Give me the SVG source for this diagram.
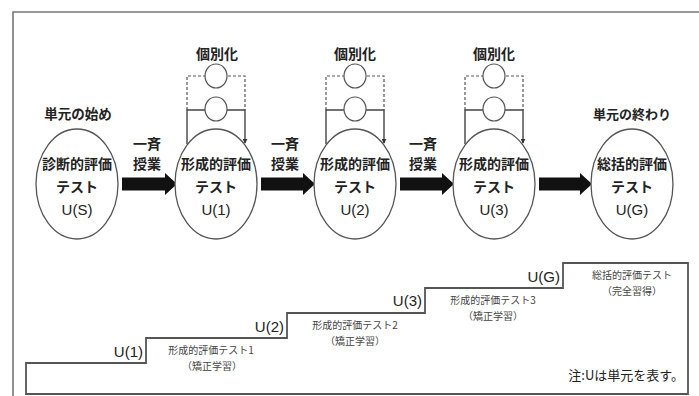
<svg xmlns="http://www.w3.org/2000/svg" width="699" height="396" viewBox="0 0 699 396">
<defs>
<style>
.jp{font-family:"Noto Sans CJK JP","Noto Sans",sans-serif;fill:#222;}
.b{font-weight:700;font-size:14px;}
.u{font-family:"Liberation Sans","Noto Sans",sans-serif;fill:#222;font-size:15px;}
.s{font-size:10px;fill:#444;}
.node{fill:#fff;stroke:#555;stroke-width:1.3;}
.sm{fill:#fff;stroke:#555;stroke-width:1.2;}
.solid{fill:none;stroke:#444;stroke-width:1.4;}
.dash{fill:none;stroke:#555;stroke-width:1.2;stroke-dasharray:3 2;}
.big{fill:#111;}
.stair{fill:none;stroke:#555;stroke-width:1.8;}
</style>
<marker id="ah" viewBox="0 0 6 6" refX="5" refY="3" markerWidth="5" markerHeight="5" orient="auto" markerUnits="userSpaceOnUse">
<path d="M0,0 L6,3 L0,6 z" fill="#333"/>
</marker>
</defs>
<rect width="699" height="396" fill="#fff"/>
<path d="M13,396 V12 H699" fill="none" stroke="#777" stroke-width="1.6"/>

<g id="connectors">
<g id="arrows">
<path class="big" d="M122,177.5 H165 V173 L177,184 L165,195 V190.5 H122 z"/>
<path class="big" d="M261,177.5 H303 V173 L315,184 L303,195 V190.5 H261 z"/>
<path class="big" d="M400,177.5 H442 V173 L454,184 L442,195 V190.5 H400 z"/>
<path class="big" d="M539,177.5 H580 V173 L592,184 L580,195 V190.5 H539 z"/>
</g>
<g id="loops">
<path class="dash" d="M187,110 V76 H245 V110"/>
<path class="solid" d="M187,144 V110 H245 V143" marker-end="url(#ah)"/>
<path class="dash" d="M326,110 V76 H384 V110"/>
<path class="solid" d="M326,144 V110 H384 V143" marker-end="url(#ah)"/>
<path class="dash" d="M465,110 V76 H523 V110"/>
<path class="solid" d="M465,144 V110 H523 V143" marker-end="url(#ah)"/>
</g>
</g>

<g id="arrow-labels">
<text class="jp b" x="147" y="143" text-anchor="middle" dominant-baseline="central">一斉</text>
<text class="jp b" x="147" y="163" text-anchor="middle" dominant-baseline="central">授業</text>
<text class="jp b" x="285" y="143" text-anchor="middle" dominant-baseline="central">一斉</text>
<text class="jp b" x="285" y="163" text-anchor="middle" dominant-baseline="central">授業</text>
<text class="jp b" x="423" y="143" text-anchor="middle" dominant-baseline="central">一斉</text>
<text class="jp b" x="423" y="163" text-anchor="middle" dominant-baseline="central">授業</text>
</g>

<g id="label-start"><text class="jp b" x="78" y="113" text-anchor="middle" dominant-baseline="central" style="font-size:13.5px">単元の始め</text></g>
<g id="label-end"><text class="jp b" x="632" y="113" text-anchor="middle" dominant-baseline="central" style="font-size:13px">単元の終わり</text></g>

<g id="indiv1">
<text class="jp b" x="217" y="53" text-anchor="middle" dominant-baseline="central">個別化</text>
<ellipse class="sm" cx="216" cy="76" rx="11" ry="12"/>
<ellipse class="sm" cx="216" cy="109" rx="11" ry="12"/>
</g>
<g id="indiv2">
<text class="jp b" x="355" y="53" text-anchor="middle" dominant-baseline="central">個別化</text>
<ellipse class="sm" cx="355" cy="76" rx="11" ry="12"/>
<ellipse class="sm" cx="355" cy="109" rx="11" ry="12"/>
</g>
<g id="indiv3">
<text class="jp b" x="494" y="53" text-anchor="middle" dominant-baseline="central">個別化</text>
<ellipse class="sm" cx="494" cy="76" rx="11" ry="12"/>
<ellipse class="sm" cx="494" cy="109" rx="11" ry="12"/>
</g>

<g id="node-US">
<ellipse class="node" cx="77" cy="184" rx="41" ry="55"/>
<text class="jp b" x="77" y="163" text-anchor="middle" dominant-baseline="central">診断的評価</text>
<text class="jp b" x="77" y="186" text-anchor="middle" dominant-baseline="central">テスト</text>
<text class="u" x="77" y="209" text-anchor="middle" dominant-baseline="central">U(S)</text>
</g>
<g id="node-U1">
<ellipse class="node" cx="216" cy="184" rx="41" ry="55"/>
<text class="jp b" x="216" y="163" text-anchor="middle" dominant-baseline="central">形成的評価</text>
<text class="jp b" x="216" y="186" text-anchor="middle" dominant-baseline="central">テスト</text>
<text class="u" x="216" y="209" text-anchor="middle" dominant-baseline="central">U(1)</text>
</g>
<g id="node-U2">
<ellipse class="node" cx="355" cy="184" rx="41" ry="55"/>
<text class="jp b" x="355" y="163" text-anchor="middle" dominant-baseline="central">形成的評価</text>
<text class="jp b" x="355" y="186" text-anchor="middle" dominant-baseline="central">テスト</text>
<text class="u" x="355" y="209" text-anchor="middle" dominant-baseline="central">U(2)</text>
</g>
<g id="node-U3">
<ellipse class="node" cx="494" cy="184" rx="41" ry="55"/>
<text class="jp b" x="494" y="163" text-anchor="middle" dominant-baseline="central">形成的評価</text>
<text class="jp b" x="494" y="186" text-anchor="middle" dominant-baseline="central">テスト</text>
<text class="u" x="494" y="209" text-anchor="middle" dominant-baseline="central">U(3)</text>
</g>
<g id="node-UG">
<ellipse class="node" cx="632" cy="184" rx="41" ry="55"/>
<text class="jp b" x="632" y="163" text-anchor="middle" dominant-baseline="central">総括的評価</text>
<text class="jp b" x="632" y="186" text-anchor="middle" dominant-baseline="central">テスト</text>
<text class="u" x="632" y="209" text-anchor="middle" dominant-baseline="central">U(G)</text>
</g>

<g id="staircase">
<path class="stair" d="M26,394 V363 H146 V338 H287 V313 H425 V288 H563 V263 H688 V394 z"/>
<text class="u" x="143" y="351" text-anchor="end" dominant-baseline="central">U(1)</text>
<text class="u" x="284" y="326" text-anchor="end" dominant-baseline="central">U(2)</text>
<text class="u" x="422" y="300" text-anchor="end" dominant-baseline="central">U(3)</text>
<text class="u" x="560" y="276" text-anchor="end" dominant-baseline="central">U(G)</text>
<text class="jp s" x="211" y="349" text-anchor="middle" dominant-baseline="central">形成的評価テスト1</text>
<text class="jp s" x="212" y="365" text-anchor="middle" dominant-baseline="central">（矯正学習）</text>
<text class="jp s" x="355" y="324" text-anchor="middle" dominant-baseline="central">形成的評価テスト2</text>
<text class="jp s" x="355" y="340" text-anchor="middle" dominant-baseline="central">（矯正学習）</text>
<text class="jp s" x="493" y="299" text-anchor="middle" dominant-baseline="central">形成的評価テスト3</text>
<text class="jp s" x="493" y="315" text-anchor="middle" dominant-baseline="central">（矯正学習）</text>
<text class="jp s" x="632" y="274" text-anchor="middle" dominant-baseline="central">総括的評価テスト</text>
<text class="jp s" x="632" y="290" text-anchor="middle" dominant-baseline="central">（完全習得）</text>
<text class="jp" x="684" y="374" text-anchor="end" dominant-baseline="central" style="font-size:13px">注:Uは単元を表す。</text>
</g>
</svg>
